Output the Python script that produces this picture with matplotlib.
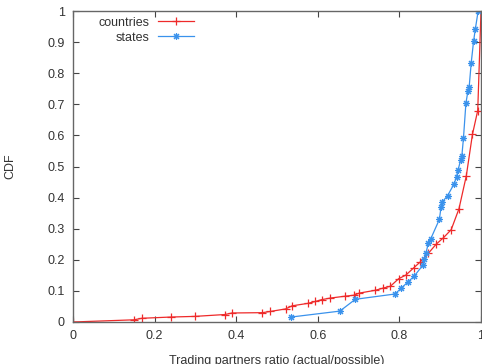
import matplotlib
matplotlib.use('Agg')
import matplotlib.pyplot as plt

# countries CDF
countries_x = [0.0, 0.149, 0.169, 0.241, 0.298, 0.372, 0.390, 0.464, 0.484, 0.521,
               0.537, 0.576, 0.594, 0.610, 0.631, 0.667, 0.688, 0.702, 0.741, 0.760,
               0.778, 0.798, 0.816, 0.835, 0.851, 0.871, 0.890, 0.908, 0.927, 0.946,
               0.964, 0.979, 0.992, 1.0]
countries_y = [0.0, 0.007, 0.012, 0.016, 0.018, 0.024, 0.029, 0.030, 0.034, 0.042,
               0.052, 0.060, 0.066, 0.072, 0.077, 0.083, 0.086, 0.093, 0.102, 0.109,
               0.115, 0.139, 0.151, 0.174, 0.193, 0.221, 0.250, 0.271, 0.297, 0.364,
               0.470, 0.603, 0.680, 1.0]

# states CDF
states_x = [0.535, 0.654, 0.692, 0.789, 0.804, 0.821, 0.836, 0.857, 0.861, 0.865,
            0.871, 0.877, 0.898, 0.902, 0.905, 0.918, 0.934, 0.940, 0.944, 0.950,
            0.953, 0.957, 0.963, 0.968, 0.971, 0.976, 0.982, 0.986, 0.993]
states_y = [0.016, 0.035, 0.073, 0.090, 0.108, 0.129, 0.147, 0.182, 0.201, 0.221,
            0.254, 0.268, 0.330, 0.369, 0.386, 0.406, 0.444, 0.467, 0.490, 0.520,
            0.533, 0.591, 0.703, 0.743, 0.756, 0.833, 0.905, 0.941, 1.0]

xticks = [0, 0.2, 0.4, 0.6, 0.8, 1]
xtick_labels = ['0', '0.2', '0.4', '0.6', '0.8', '1']
yticks = [0, 0.1, 0.2, 0.3, 0.4, 0.5, 0.6, 0.7, 0.8, 0.9, 1]
ytick_labels = ['0', '0.1', '0.2', '0.3', '0.4', '0.5', '0.6', '0.7', '0.8', '0.9', '1']

plt.rcParams['font.family'] = ['Liberation Sans', 'DejaVu Sans']
plt.rcParams['font.size'] = 9

fig = plt.figure(figsize=(4.82, 3.64), dpi=100)
ax = fig.add_axes([73 / 482, 1 - 322 / 364, 408 / 482, 311 / 364])

red = '#ee2a2a'
blue = '#3a92ec'
ax.plot(countries_x, countries_y, color=red, lw=0.9, marker='+', ms=5.5, mew=0.9,
        label='countries')
ax.plot(states_x, states_y, color=blue, lw=0.9, marker=(8, 2, 0), ms=5, mew=0.8,
        label='states')

ax.set_xlim(0, 1)
ax.set_ylim(0, 1)
ax.set_xticks(xticks)
ax.set_xticklabels(xtick_labels)
ax.set_yticks(yticks)
ax.set_yticklabels(ytick_labels)

for s in ax.spines.values():
    s.set_color('#666666')
    s.set_linewidth(1)
ax.tick_params(direction='in', length=4, width=0.8, color='#444444',
               labelcolor='#333333', top=True, right=True, pad=6)

ax.set_xlabel('Trading partners ratio (actual/possible)', color='#333333', labelpad=9)
ax.set_ylabel('CDF', color='#333333', labelpad=22)

leg = ax.legend(loc='upper left', bbox_to_anchor=(0.04, 1.01), frameon=False,
                markerfirst=False, handlelength=2.9, handletextpad=0.7,
                labelspacing=0.25, borderpad=0.2)
for t in leg.get_texts():
    t.set_ha('right')
    t.set_color('#333333')
leg._legend_box.align = 'right'

fig.savefig('out.png', dpi=100)
